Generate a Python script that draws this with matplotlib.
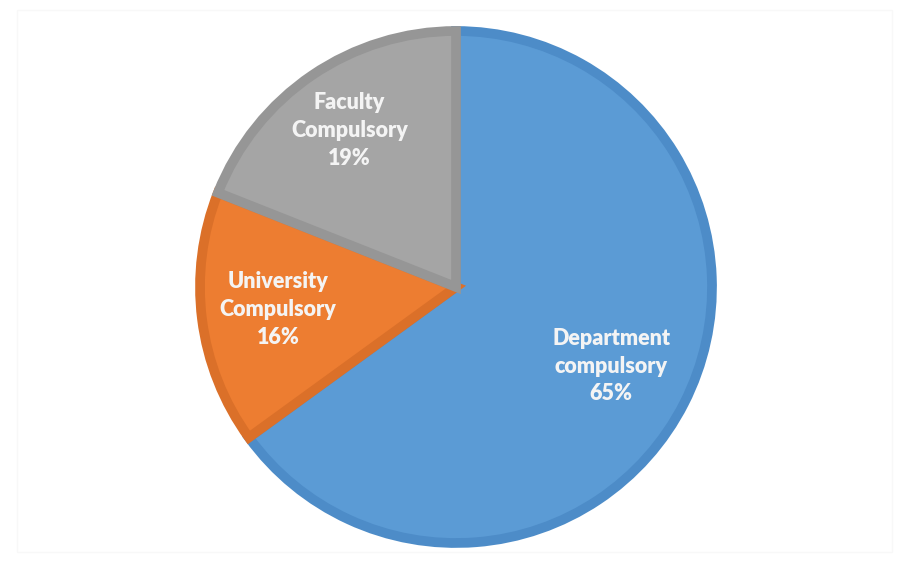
import matplotlib
matplotlib.use("Agg")
import matplotlib.pyplot as plt
import numpy as np

categories = ["Department\ncompulsory", "University\nCompulsory", "Faculty\nCompulsory"]
shares = [65, 16, 19]

fill_colors = ["#5B9BD5", "#ED7D31", "#A5A5A5"]
edge_colors = ["#4D8CC8", "#DB7029", "#969696"]
label_dist = [0.68, 0.70, 0.74]

W, H = 909, 562
fig = plt.figure(figsize=(W / 100, H / 100), dpi=100)
fig.patch.set_facecolor("white")

cx, cy, r = 456, 287, 256
ax = fig.add_axes([(cx - r) / W, (H - cy - r) / H, 2 * r / W, 2 * r / H])
wedges, _ = ax.pie(shares, colors=fill_colors, startangle=90, counterclock=False,
                   radius=1.0, wedgeprops=dict(linewidth=0))
# inner darker border drawn inside each wedge
for w, ec in zip(wedges, edge_colors):
    w.set_edgecolor(ec)
    w.set_linewidth(7)
    w.set_clip_path(w)

for w, cat, v, d in zip(wedges, categories, shares, label_dist):
    ang = np.deg2rad((w.theta1 + w.theta2) / 2)
    ax.text(d * np.cos(ang), d * np.sin(ang), f"{cat}\n{v}%", ha="center", va="center",
            color="#F4F4F4", fontsize=15.5, fontweight="heavy", family="Lato",
            linespacing=1.4)

ax.set_xlim(-1, 1)
ax.set_ylim(-1, 1)
ax.set_aspect("equal")
ax.axis("off")

# faint frame around the figure
fig.add_artist(plt.Rectangle((17 / W, 10 / H), 1 - 34 / W, 1 - 20 / H, transform=fig.transFigure,
                             fill=False, edgecolor="#F8F8F8", linewidth=1))

fig.savefig("out.png", dpi=100, facecolor="white")
